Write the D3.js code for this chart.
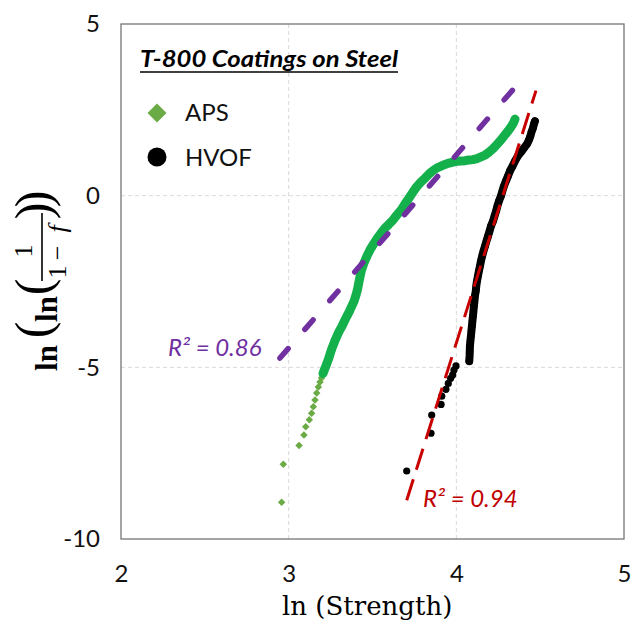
<!DOCTYPE html>
<html>
<head>
<meta charset="utf-8">
<script src="https://cdnjs.cloudflare.com/ajax/libs/d3/7.8.5/d3.min.js"></script>
<style>
body { margin: 0; background: #fff; }
</style>
</head>
<body>
<div id="chart"></div>
<script>

var width = 632,
    height = 626;

// APS (green diamonds)
var apsX = [2.958, 2.968, 3.062, 3.091, 3.102, 3.123, 3.137, 3.147, 3.157, 3.167, 3.177, 3.187, 3.196, 3.205,
  3.214, 3.223, 3.232, 3.241, 3.249, 3.258, 3.267, 3.276, 3.288, 3.300, 3.315, 3.330, 3.345, 3.360, 3.375,
  3.390, 3.402, 3.411, 3.418, 3.425, 3.434, 3.449, 3.467, 3.485, 3.506, 3.527, 3.551, 3.575, 3.598, 3.622,
  3.646, 3.670, 3.694, 3.718, 3.742, 3.765, 3.789, 3.813, 3.837, 3.861, 3.885, 3.909, 3.932, 3.956, 3.980,
  4.004, 4.028, 4.052, 4.075, 4.099, 4.123, 4.147, 4.171, 4.195, 4.219, 4.242, 4.266, 4.287, 4.308, 4.326,
  4.341, 4.350];
var apsY = [-8.93, -7.82, -7.28, -6.97, -6.73, -6.53, -6.34, -6.15, -5.95, -5.75, -5.57, -5.43, -5.31, -5.18,
  -5.06, -4.95, -4.83, -4.71, -4.58, -4.45, -4.34, -4.22, -4.09, -3.96, -3.83, -3.68, -3.53, -3.39, -3.23,
  -3.07, -2.89, -2.72, -2.54, -2.37, -2.17, -1.96, -1.76, -1.58, -1.41, -1.25, -1.09, -0.94, -0.83, -0.71,
  -0.56, -0.42, -0.24, -0.07, 0.11, 0.27, 0.40, 0.51, 0.63, 0.73, 0.81, 0.86, 0.91, 0.95, 0.98,
  1.00, 1.01, 1.02, 1.04, 1.05, 1.08, 1.13, 1.18, 1.27, 1.37, 1.49, 1.62, 1.75, 1.88, 2.00,
  2.12, 2.23];

// HVOF (black circles)
var hvofX = [3.704, 3.849, 3.853, 3.909, 3.913, 3.938, 3.952, 3.966, 3.978, 3.986, 3.998,
  4.077, 4.079, 4.080, 4.081, 4.084, 4.087, 4.090, 4.093, 4.096, 4.099, 4.102, 4.105, 4.108, 4.111,
  4.116, 4.119, 4.123, 4.129, 4.135, 4.141, 4.147, 4.154, 4.162, 4.171, 4.180, 4.189, 4.198, 4.207,
  4.219, 4.228, 4.237, 4.245, 4.254, 4.266, 4.275, 4.284, 4.296, 4.308, 4.320, 4.335, 4.350, 4.368,
  4.386, 4.404, 4.421, 4.433, 4.442, 4.448, 4.457, 4.463, 4.469];
var hvofY = [-8.02, -6.92, -6.39, -6.08, -5.84, -5.64, -5.47, -5.32, -5.22, -5.08, -4.96,
  -4.82, -4.67, -4.53, -4.38, -4.23, -4.09, -3.94, -3.80, -3.65, -3.51, -3.36, -3.21, -3.07, -2.92,
  -2.78, -2.63, -2.49, -2.34, -2.19, -2.05, -1.90, -1.76, -1.61, -1.47, -1.32, -1.18, -1.03, -0.88,
  -0.74, -0.59, -0.45, -0.30, -0.16, -0.01, 0.14, 0.28, 0.43, 0.57, 0.72, 0.86, 1.01, 1.16,
  1.27, 1.39, 1.50, 1.62, 1.74, 1.85, 1.97, 2.09, 2.17];

// linear fits (end points)
var apsFitX = [2.948, 4.356], apsFitY = [-4.73, 3.19];
var hvofFitX = [3.704, 4.475], hvofFitY = [-8.87, 3.06];

var xTicks = [2, 3, 4, 5],
    yTicks = [5, 0, -5, -10],
    gridX = [3, 4],
    gridY = [0, -5];

var seriesNames = ["APS", "HVOF"];
var r2Labels = ["R\u00B2 = 0.86", "R\u00B2 = 0.94"];
var chartTitle = "T-800 Coatings on Steel";

var scale = {
  x: d3.scaleLinear().domain([2, 5]).range([121, 624]),
  y: d3.scaleLinear().domain([-10, 5]).range([539, 24])
};

var svg = d3.select("#chart").append("svg")
  .attr("width", width)
  .attr("height", height);

function pts(xs, ys) {
  return xs.map(function(d, i) { return {x: d, y: ys[i]}; });
}
var aps = pts(apsX, apsY),
    hvof = pts(hvofX, hvofY);

var line = d3.line()
  .x(function(d) { return scale.x(d.x); })
  .y(function(d) { return scale.y(d.y); });

// grid
svg.selectAll(".gx").data(gridX).enter().append("line")
  .attr("x1", scale.x).attr("x2", scale.x)
  .attr("y1", scale.y(5)).attr("y2", scale.y(-10))
  .attr("stroke", "#d9d9d9").attr("stroke-dasharray", "4,3");
svg.selectAll(".gy").data(gridY).enter().append("line")
  .attr("y1", scale.y).attr("y2", scale.y)
  .attr("x1", scale.x(2)).attr("x2", scale.x(5))
  .attr("stroke", "#d9d9d9").attr("stroke-dasharray", "4,3");

// frame
svg.append("rect")
  .attr("x", scale.x(2)).attr("y", scale.y(5))
  .attr("width", scale.x(5) - scale.x(2))
  .attr("height", scale.y(-10) - scale.y(5))
  .attr("fill", "none").attr("stroke", "#767676").attr("stroke-width", 1.3);

// axes (plain hyphen minus like the original)
var fmt = function(d) { return String(d); };
var xAxis = svg.append("g")
  .attr("transform", "translate(0," + scale.y(-10) + ")")
  .call(d3.axisBottom(scale.x).tickValues(xTicks).tickSize(0).tickPadding(26).tickFormat(fmt));
var yAxis = svg.append("g")
  .attr("transform", "translate(" + scale.x(2) + ",0)")
  .call(d3.axisLeft(scale.y).tickValues(yTicks).tickSize(0).tickPadding(21).tickFormat(fmt));
[xAxis, yAxis].forEach(function(a) {
  a.select(".domain").remove();
  a.selectAll("text")
    .attr("font-family", "Lato, sans-serif")
    .attr("font-size", 24)
    .attr("fill", "#111");
});

// APS markers then dense band
var diamond = d3.symbol().type(d3.symbolSquare).size(28);
svg.append("g").selectAll("path").data(aps).enter().append("path")
  .attr("d", diamond)
  .attr("transform", function(d) { return "translate(" + scale.x(d.x) + "," + scale.y(d.y) + ") rotate(45)"; })
  .attr("fill", "#6aab45");
svg.append("path")
  .datum(aps.filter(function(d) { return d.y > -5.2; }))
  .attr("d", line)
  .attr("fill", "none").attr("stroke", "#14b04b")
  .attr("stroke-width", 9).attr("stroke-linecap", "round").attr("stroke-linejoin", "round");

// HVOF markers + band
svg.append("g").selectAll("circle").data(hvof).enter().append("circle")
  .attr("cx", function(d) { return scale.x(d.x); })
  .attr("cy", function(d) { return scale.y(d.y); })
  .attr("r", 3.6)
  .attr("fill", "#000");
svg.append("path")
  .datum(hvof.filter(function(d) { return d.y > -4.9; }))
  .attr("d", line)
  .attr("fill", "none").attr("stroke", "#000")
  .attr("stroke-width", 8).attr("stroke-linecap", "round").attr("stroke-linejoin", "round");

// trend lines
svg.append("path")
  .datum(pts(apsFitX, apsFitY))
  .attr("d", line)
  .attr("fill", "none").attr("stroke", "#7030a0")
  .attr("stroke-width", 5.5).attr("stroke-linecap", "round")
  .attr("stroke-dasharray", "12.5,25.5");
svg.append("path")
  .datum(pts(hvofFitX, hvofFitY))
  .attr("d", line)
  .attr("fill", "none").attr("stroke", "#c80000")
  .attr("stroke-width", 3)
  .attr("stroke-dasharray", "22,10");

// R2 labels
svg.append("text").attr("x", 168).attr("y", 356)
  .attr("font-family", "Lato, sans-serif").attr("font-style", "italic").attr("font-size", 24)
  .attr("fill", "#7030a0").text(r2Labels[0]);
svg.append("text").attr("x", 423).attr("y", 507)
  .attr("font-family", "Lato, sans-serif").attr("font-style", "italic").attr("font-size", 24)
  .attr("fill", "#c00000").text(r2Labels[1]);

// title
svg.append("text").attr("x", 140).attr("y", 67)
  .attr("font-family", "Lato, sans-serif").attr("font-style", "italic").attr("font-weight", "bold")
  .attr("font-size", 23).attr("textLength", 258).attr("lengthAdjust", "spacingAndGlyphs")
  .attr("fill", "#000").text(chartTitle);
svg.append("line").attr("x1", 140).attr("x2", 398).attr("y1", 72).attr("y2", 72)
  .attr("stroke", "#000").attr("stroke-width", 1.6);

// legend
svg.append("path")
  .attr("d", d3.symbol().type(d3.symbolSquare).size(180))
  .attr("transform", "translate(157,113) rotate(45)")
  .attr("fill", "#6aab45");
svg.append("circle").attr("cx", 157).attr("cy", 157).attr("r", 9.5).attr("fill", "#000");
svg.selectAll(".leg").data(seriesNames).enter().append("text")
  .attr("x", 185).attr("y", function(d, i) { return 121 + i * 45; })
  .attr("font-family", "Lato, sans-serif").attr("font-size", 24).attr("fill", "#111")
  .text(function(d) { return d; });

// x title
svg.append("text").attr("x", 282).attr("y", 615)
  .attr("font-family", "'DejaVu Serif', serif").attr("font-size", 26).attr("fill", "#000")
  .text("ln (Strength)");

// y title: ln(ln(1/(1-f)))
var yt = svg.append("g").attr("transform", "rotate(-90)")
  .attr("font-family", "'Liberation Serif', serif").attr("fill", "#000")
  .attr("text-anchor", "middle");
yt.append("text").attr("x", -358).attr("y", 57).attr("font-weight", "bold").attr("font-size", 31).text("ln");
yt.append("text").attr("x", -330).attr("y", 50).attr("font-size", 50).text("(");
yt.append("text").attr("x", -309).attr("y", 57).attr("font-weight", "bold").attr("font-size", 31).text("ln");
yt.append("text").attr("x", -287).attr("y", 50).attr("font-size", 50).text("(");
yt.append("line").attr("x1", -281).attr("x2", -213).attr("y1", 42).attr("y2", 42)
  .attr("stroke", "#000").attr("stroke-width", 1.6);
yt.append("text").attr("x", -251).attr("y", 32).attr("font-size", 26).text("1");
yt.append("text").attr("x", -272).attr("y", 66).attr("font-size", 26).text("1");
yt.append("text").attr("x", -253).attr("y", 66).attr("font-size", 26).text("\u2212");
yt.append("text").attr("x", -229).attr("y", 66).attr("font-size", 26).attr("font-style", "italic").text("f");
yt.append("text").attr("x", -211).attr("y", 50).attr("font-size", 50).text(")");
yt.append("text").attr("x", -199).attr("y", 50).attr("font-size", 50).text(")");

</script>
</body>
</html>
